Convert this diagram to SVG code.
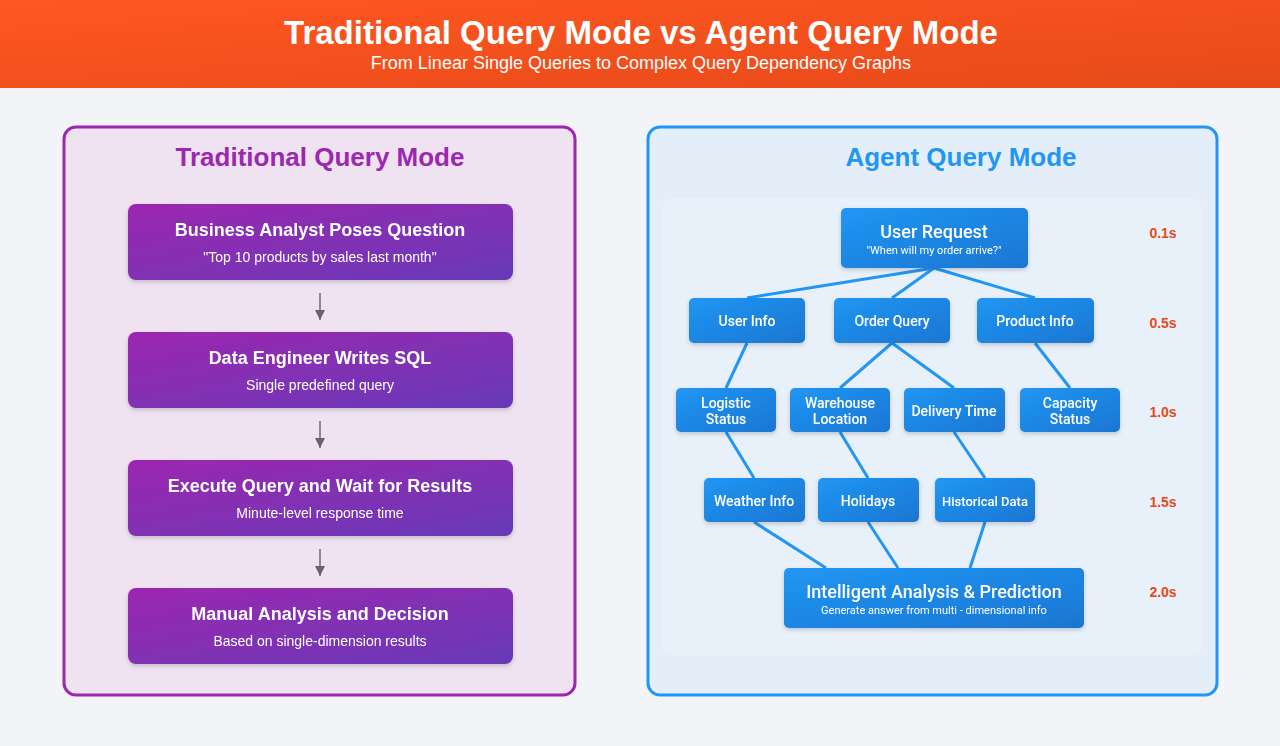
<svg xmlns="http://www.w3.org/2000/svg" width="1280" height="746" viewBox="0 0 1280 746">
<defs>
<linearGradient id="hdr" x1="0" y1="0" x2="1" y2="1"><stop offset="0" stop-color="#FF5722"/><stop offset="1" stop-color="#E64A19"/></linearGradient>
<linearGradient id="pur" x1="0" y1="0" x2="1" y2="1"><stop offset="0" stop-color="#9C27B0"/><stop offset="1" stop-color="#673AB7"/></linearGradient>
<linearGradient id="blu" x1="0" y1="0" x2="1" y2="1"><stop offset="0" stop-color="#2196F3"/><stop offset="1" stop-color="#1976D2"/></linearGradient>
<filter id="sh" x="-10%" y="-10%" width="120%" height="140%"><feDropShadow dx="0" dy="2" stdDeviation="2" flood-color="#000" flood-opacity="0.18"/></filter>
<marker id="ar" viewBox="0 0 10 10" refX="10" refY="5" markerWidth="10" markerHeight="10" orient="auto" markerUnits="userSpaceOnUse"><path d="M0,0 L10,5 L0,10 z" fill="#666"/></marker>
<style>
text{font-family:"Liberation Sans",Arial,sans-serif;text-anchor:middle}
.h1{font-size:33px;font-weight:bold;fill:#fff}
.h2{font-size:18px;fill:#fff}
.pt{font-size:26px;font-weight:bold}
.lt{font-size:18px;font-weight:bold;fill:#fff}
.ls{font-size:14px;fill:#fff}
.an{font-family:Roboto,"Liberation Sans",sans-serif;font-size:14px;font-weight:500;fill:#fff}
.tm{font-size:14px;font-weight:bold;fill:#E64A19}
.edge{stroke:#2196F3;stroke-width:3;fill:none}
.arr{stroke:#8a5a7a;stroke-width:1.5;fill:none}
</style>
</defs>
<rect width="1280" height="746" fill="#F3F4F7"/>
<rect width="1280" height="88" fill="url(#hdr)"/>
<text class="h1" x="641" y="44">Traditional Query Mode vs Agent Query Mode</text>
<text class="h2" x="641" y="69">From Linear Single Queries to Complex Query Dependency Graphs</text>

<g id="traditional-panel">
<rect x="64" y="127" width="511" height="568" rx="12" fill="#EFE3F2" stroke="#9C27B0" stroke-width="3"/>
<text class="pt" x="320" y="166" fill="#9C27B0">Traditional Query Mode</text>
</g>

<g id="connectors-left">
<line class="arr" x1="320" y1="293" x2="320" y2="320" marker-end="url(#ar)"/>
<line class="arr" x1="320" y1="421" x2="320" y2="448" marker-end="url(#ar)"/>
<line class="arr" x1="320" y1="549" x2="320" y2="576" marker-end="url(#ar)"/>
</g>

<g id="t1" filter="url(#sh)"><rect x="128" y="204" width="385" height="76" rx="8" fill="url(#pur)"/>
<text class="lt" x="320" y="236">Business Analyst Poses Question</text>
<text class="ls" x="320" y="262">"Top 10 products by sales last month"</text></g>
<g id="t2" filter="url(#sh)"><rect x="128" y="332" width="385" height="76" rx="8" fill="url(#pur)"/>
<text class="lt" x="320" y="364">Data Engineer Writes SQL</text>
<text class="ls" x="320" y="390">Single predefined query</text></g>
<g id="t3" filter="url(#sh)"><rect x="128" y="460" width="385" height="76" rx="8" fill="url(#pur)"/>
<text class="lt" x="320" y="492">Execute Query and Wait for Results</text>
<text class="ls" x="320" y="518">Minute-level response time</text></g>
<g id="t4" filter="url(#sh)"><rect x="128" y="588" width="385" height="76" rx="8" fill="url(#pur)"/>
<text class="lt" x="320" y="620">Manual Analysis and Decision</text>
<text class="ls" x="320" y="646">Based on single-dimension results</text></g>

<g id="agent-panel">
<rect x="648" y="127" width="569" height="568" rx="12" fill="#E4EEF9" stroke="#2196F3" stroke-width="3"/>
<rect x="662" y="198" width="540" height="458" rx="10" fill="#E8F0FA" opacity="0.8"/>
<text class="pt" x="961" y="166" fill="#2196F3">Agent Query Mode</text>
</g>

<g id="connectors-right">
<line class="edge" x1="934" y1="268" x2="747" y2="298"/>
<line class="edge" x1="934" y1="268" x2="892" y2="298"/>
<line class="edge" x1="934" y1="268" x2="1035" y2="298"/>
<line class="edge" x1="747" y1="343" x2="726" y2="388"/>
<line class="edge" x1="892" y1="343" x2="840" y2="388"/>
<line class="edge" x1="892" y1="343" x2="954" y2="388"/>
<line class="edge" x1="1035" y1="343" x2="1070" y2="388"/>
<line class="edge" x1="726" y1="432" x2="754" y2="478"/>
<line class="edge" x1="840" y1="432" x2="868" y2="478"/>
<line class="edge" x1="954" y1="432" x2="985" y2="478"/>
<line class="edge" x1="754" y1="522" x2="826" y2="568"/>
<line class="edge" x1="868" y1="522" x2="898" y2="568"/>
<line class="edge" x1="985" y1="522" x2="970" y2="568"/>
</g>

<g id="a-user-request" filter="url(#sh)"><rect x="841" y="208" width="187" height="60" rx="5" fill="url(#blu)"/>
<text class="an" x="934" y="238" style="font-size:18px">User Request</text>
<text class="an" x="934" y="254" style="font-size:11px;font-weight:400">"When will my order arrive?"</text></g>
<g id="a-user-info" filter="url(#sh)"><rect x="689" y="298" width="116" height="45" rx="5" fill="url(#blu)"/>
<text class="an" x="747" y="326">User Info</text></g>
<g id="a-order-query" filter="url(#sh)"><rect x="834" y="298" width="116" height="45" rx="5" fill="url(#blu)"/>
<text class="an" x="892" y="326">Order Query</text></g>
<g id="a-product-info" filter="url(#sh)"><rect x="977" y="298" width="117" height="45" rx="5" fill="url(#blu)"/>
<text class="an" x="1035" y="326">Product Info</text></g>
<g id="a-logistic" filter="url(#sh)"><rect x="676" y="388" width="100" height="44" rx="5" fill="url(#blu)"/>
<text class="an" x="726" y="408">Logistic</text><text class="an" x="726" y="424">Status</text></g>
<g id="a-warehouse" filter="url(#sh)"><rect x="790" y="388" width="100" height="44" rx="5" fill="url(#blu)"/>
<text class="an" x="840" y="408">Warehouse</text><text class="an" x="840" y="424">Location</text></g>
<g id="a-delivery" filter="url(#sh)"><rect x="904" y="388" width="101" height="44" rx="5" fill="url(#blu)"/>
<text class="an" x="954" y="416">Delivery Time</text></g>
<g id="a-capacity" filter="url(#sh)"><rect x="1020" y="388" width="100" height="44" rx="5" fill="url(#blu)"/>
<text class="an" x="1070" y="408">Capacity</text><text class="an" x="1070" y="424">Status</text></g>
<g id="a-weather" filter="url(#sh)"><rect x="704" y="478" width="101" height="44" rx="5" fill="url(#blu)"/>
<text class="an" x="754" y="506">Weather Info</text></g>
<g id="a-holidays" filter="url(#sh)"><rect x="818" y="478" width="101" height="44" rx="5" fill="url(#blu)"/>
<text class="an" x="868" y="506">Holidays</text></g>
<g id="a-historical" filter="url(#sh)"><rect x="935" y="478" width="100" height="44" rx="5" fill="url(#blu)"/>
<text class="an" x="985" y="506" style="font-size:13px">Historical Data</text></g>
<g id="a-intelligent" filter="url(#sh)"><rect x="784" y="568" width="300" height="60" rx="5" fill="url(#blu)"/>
<text class="an" x="934" y="598" style="font-size:18px">Intelligent Analysis &amp; Prediction</text>
<text class="an" x="934" y="614" style="font-size:11px;font-weight:400">Generate answer from multi - dimensional info</text></g>

<g id="times">
<text class="tm" x="1163" y="238">0.1s</text>
<text class="tm" x="1163" y="328">0.5s</text>
<text class="tm" x="1163" y="417">1.0s</text>
<text class="tm" x="1163" y="507">1.5s</text>
<text class="tm" x="1163" y="597">2.0s</text>
</g>
</svg>
